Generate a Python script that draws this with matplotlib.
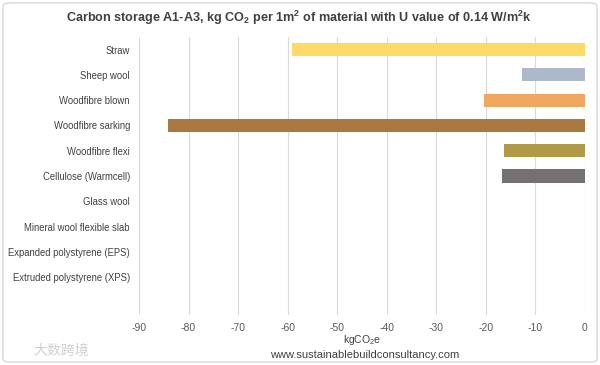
import matplotlib.pyplot as plt
from matplotlib.patches import FancyBboxPatch

plt.rcParams['font.family'] = ['Liberation Sans', 'DejaVu Sans']
plt.rcParams['mathtext.fontset'] = 'custom'
plt.rcParams['mathtext.rm'] = 'Liberation Sans'
plt.rcParams['mathtext.bf'] = 'Liberation Sans:bold'
plt.rcParams['mathtext.it'] = 'Liberation Sans:italic'

# data
materials = ["Straw", "Sheep wool", "Woodfibre blown", "Woodfibre sarking",
             "Woodfibre flexi", "Cellulose (Warmcell)", "Glass wool",
             "Mineral wool flexible slab", "Expanded polystyrene (EPS)",
             "Extruded polystyrene (XPS)"]
storage = [-59.1, -12.8, -20.3, -84.1, -16.3, -16.8, 0, 0, 0, 0]
colours = ["#FFD966", "#ADB9CA", "#EFA65F", "#AA7942", "#B09A48", "#767171",
           "#767171", "#767171", "#767171", "#767171"]
xticks = [-90, -80, -70, -60, -50, -40, -30, -20, -10, 0]

fig = plt.figure(figsize=(6, 3.65), dpi=100)
ax = fig.add_axes([0.2317, 0.137, 0.7433, 0.7616])

ypos = list(range(len(materials)))
ax.barh(ypos, storage, height=0.52, color=colours, zorder=3)

ax.set_xlim(-90, 0)
ax.set_ylim(len(materials) + 0.5, -0.5)
ax.set_xticks(xticks)
ax.set_xticklabels([str(t) for t in xticks], fontsize=7.5, color="#595959")
ax.set_yticks(ypos)
ax.set_yticklabels(materials, fontsize=6.85, color="#404040")
ax.tick_params(axis="y", length=0, pad=6.5)
ax.tick_params(axis="x", length=0, pad=6)
ax.grid(axis="x", color="#D9D9D9", lw=0.8, zorder=0)
for s in ax.spines.values():
    s.set_visible(False)

ax.set_xlabel("kgCO$_\\mathrm{2}$e", fontsize=7.5, color="#404040", labelpad=0)
fig.text(0.608, 0.028, "www.sustainablebuildconsultancy.com", fontsize=8,
         color="#404040", ha="center", va="center")

fig.text(0.498, 0.951,
         "Carbon storage A1-A3, kg CO$_\\mathbf{2}$ per 1m$^\\mathbf{2}$ of material "
         "with U value of 0.14 W/m$^\\mathbf{2}$k",
         fontsize=9.05, fontweight="bold", color="#404040", ha="center", va="center")

# watermark
fig.text(0.055, 0.038, "大数跨境", fontsize=10, color="#D0D0D0",
         family=["Noto Sans CJK SC", "DejaVu Sans"], ha="left", va="center")

fig.patches.append(FancyBboxPatch((0.005, 0.008), 0.99, 0.984,
                                  boxstyle="round,pad=0,rounding_size=0.01",
                                  transform=fig.transFigure, fill=False,
                                  ec="#D9D9D9", lw=1))

fig.savefig("out.png", dpi=100)
